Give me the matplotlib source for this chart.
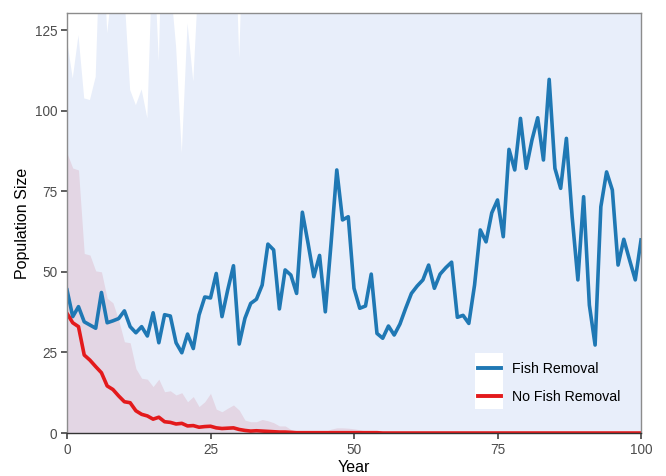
"""Population size over 100 years with and without fish removal."""

import matplotlib

matplotlib.use("Agg")
import matplotlib.pyplot as plt
from matplotlib.lines import Line2D
from matplotlib.patches import Rectangle

plt.rcParams["font.family"] = ["Liberation Sans", "DejaVu Sans"]

years = list(range(101))

# mean trajectories
fish_removal = [
    44.4, 36.1, 39.2, 34.5, 33.5, 32.5, 43.6, 34.2, 34.8, 35.5,
    37.9, 33.0, 31.1, 33.0, 30.1, 37.3, 28.0, 36.7, 36.3, 28.0,
    24.9, 30.7, 26.2, 36.6, 42.2, 41.9, 49.5, 36.1, 44.4, 51.9,
    27.6, 35.6, 40.2, 41.5, 45.9, 58.6, 56.8, 38.5, 50.6, 49.0,
    43.3, 68.5, 58.8, 48.5, 55.1, 37.6, 58.8, 81.6, 66.1, 67.1,
    44.9, 38.7, 39.4, 49.3, 30.9, 29.4, 33.2, 30.4, 33.8, 38.7,
    43.3, 45.6, 47.5, 52.1, 44.9, 49.3, 51.3, 53.0, 35.9, 36.5,
    34.0, 45.9, 63.0, 59.3, 68.3, 72.3, 60.9, 88.0, 81.6, 97.6,
    82.1, 90.9, 97.8, 84.7, 109.7, 82.1, 75.9, 91.4, 67.1, 47.5,
    73.3, 39.7, 27.3, 70.2, 81.0, 75.4, 52.1, 60.1, 53.7, 47.5,
    59.9,
]
no_fish_removal = [
    37.1, 34.2, 33.0, 24.2, 22.6, 20.6, 18.7, 14.6, 13.5, 11.5,
    9.7, 9.4, 6.9, 5.8, 5.3, 4.3, 4.9, 3.5, 3.3, 2.8,
    3.0, 2.2, 2.3, 1.8, 2.0, 2.1, 1.6, 1.4, 1.5, 1.6,
    1.1, 0.8, 0.6, 0.7, 0.6, 0.5, 0.4, 0.3, 0.3, 0.2,
    0.1, 0.1, 0.1, 0.1, 0.1, 0.1, 0.1, 0.1, 0.1, 0.1,
    0.1, 0.1, 0.1, 0.1, 0.1, 0.0, 0.0, 0.0, 0.0, 0.0,
    0.0, 0.0, 0.0, 0.0, 0.0, 0.0, 0.0, 0.0, 0.0, 0.0,
    0.0, 0.0, 0.0, 0.0, 0.0, 0.0, 0.0, 0.0, 0.0, 0.0,
    0.0, 0.0, 0.0, 0.0, 0.0, 0.0, 0.0, 0.0, 0.0, 0.0,
    0.0, 0.0, 0.0, 0.0, 0.0, 0.0, 0.0, 0.0, 0.0, 0.0,
    0.0,
]

# upper bounds of the simulation envelopes (lower bound is zero)
fish_upper = [
    121.9, 110.0, 123.4, 103.8, 103.3, 110.5, 165.0, 124.0, 140.0, 150.0,
    136.0, 106.4, 101.7, 106.6, 97.6, 154.0, 115.2, 190.0, 140.0, 120.0,
    86.8, 127.1, 109.0, 144.0, 150.0, 160.0, 148.0, 155.0, 146.0, 172.0,
    116.2, 172.0, 165.0, 158.0, 170.0, 185.0, 176.0, 160.0, 168.0, 171.0,
    165.0, 190.0, 182.0, 170.0, 178.0, 162.0, 184.0, 205.0, 192.0, 194.0,
    170.0, 163.0, 165.0, 174.0, 156.0, 154.0, 158.0, 155.0, 160.0, 164.0,
    168.0, 171.0, 173.0, 178.0, 170.0, 175.0, 177.0, 179.0, 162.0, 163.0,
    160.0, 172.0, 190.0, 186.0, 195.0, 199.0, 188.0, 215.0, 208.0, 224.0,
    210.0, 218.0, 225.0, 212.0, 236.0, 210.0, 204.0, 219.0, 195.0, 176.0,
    201.0, 168.0, 156.0, 198.0, 209.0, 203.0, 180.0, 188.0, 182.0, 176.0,
    188.0,
]
no_removal_upper = [
    86.8, 82.2, 81.6, 55.7, 55.2, 50.3, 50.0, 41.8, 40.4, 35.0,
    28.3, 28.0, 20.0, 17.0, 16.7, 14.4, 16.7, 12.8, 13.1, 11.8,
    12.5, 9.7, 11.3, 8.2, 9.7, 12.3, 7.4, 6.6, 7.7, 8.7,
    7.1, 4.0, 3.5, 3.5, 4.2, 3.8, 3.2, 2.2, 2.2, 1.1,
    0.5, 0.4, 0.3, 0.3, 0.3, 0.5, 1.2, 1.6, 1.6, 1.5,
    1.3, 1.0, 0.6, 0.3, 0.2, 0.2, 0.2, 0.1, 0.1, 0.1,
    0.1, 0.1, 0.1, 0.1, 0.1, 0.1, 0.1, 0.1, 0.1, 0.1,
    0.1, 0.1, 0.1, 0.1, 0.1, 0.1, 0.1, 0.1, 0.1, 0.1,
    0.1, 0.1, 0.1, 0.1, 0.1, 0.1, 0.1, 0.1, 0.1, 0.1,
    0.1, 0.1, 0.1, 0.1, 0.1, 0.1, 0.1, 0.1, 0.1, 0.1,
    0.1,
]

x_ticks = [0, 25, 50, 75, 100]
y_ticks = [0, 25, 50, 75, 100, 125]

BLUE = "#1F78B4"
RED = "#E31A1C"


def main():
    fig = plt.figure(figsize=(6.66, 4.76), dpi=100)
    ax = fig.add_axes([0.1006, 0.0903, 0.8619, 0.8824])

    ax.fill_between(years, 0, fish_upper, color="#e8eefa", lw=0, zorder=1)
    ax.fill_between(years, 0, no_removal_upper, color="#e3d6e4", lw=0, zorder=2)
    ax.plot(years, fish_removal, color=BLUE, lw=2.6, zorder=3)
    ax.plot(years, no_fish_removal, color=RED, lw=2.6, zorder=3)

    ax.set_xlim(0, 100)
    ax.set_ylim(0, 130.3)
    ax.set_xticks(x_ticks)
    ax.set_yticks(y_ticks)
    ax.tick_params(length=4, width=1.1, color="#333333", labelcolor="#4d4d4d",
                   labelsize=9.8, pad=3)
    ax.set_xlabel("Year", fontsize=11.5, labelpad=2)
    ax.set_ylabel("Population Size", fontsize=11.5, labelpad=3)

    for side in ("top", "right", "left"):
        ax.spines[side].set_color("#8c8c8c")
    ax.spines["bottom"].set_color("#333333")
    for sp in ax.spines.values():
        sp.set_linewidth(1.0)
        sp.set_zorder(6)

    # white key background like ggplot legend keys
    ax.add_patch(Rectangle((0.711, 0.057), 0.049, 0.133, transform=ax.transAxes,
                           facecolor="white", edgecolor="none", zorder=4))
    handles = [Line2D([], [], color=BLUE, lw=2.8), Line2D([], [], color=RED, lw=2.8)]
    ax.legend(handles, ["Fish Removal", "No Fish Removal"], loc="lower left",
              bbox_to_anchor=(0.699, 0.046), frameon=False, fontsize=10.2,
              handlelength=1.6, handletextpad=0.8, labelspacing=0.96,
              borderpad=0.2).set_zorder(5)

    fig.savefig("out.png", dpi=100)


if __name__ == "__main__":
    main()
